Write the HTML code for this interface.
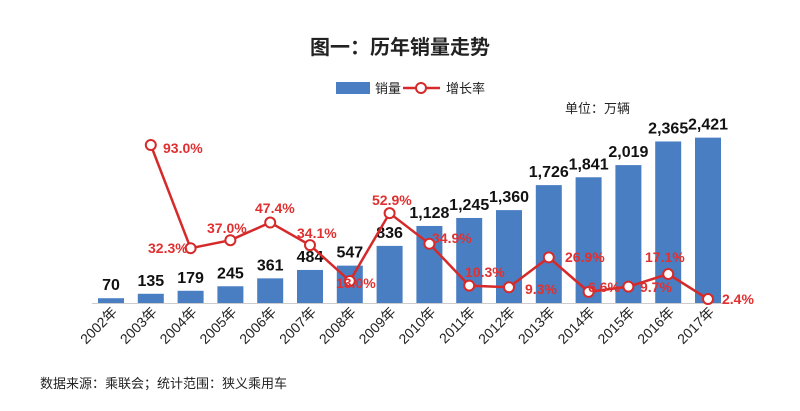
<!DOCTYPE html><html><head><meta charset="utf-8"><style>body{margin:0;background:#fff}svg{display:block}text{font-family:"Liberation Sans","Noto Sans CJK SC",sans-serif}</style></head><body>
<svg width="800" height="411" viewBox="0 0 800 411">
<text x="400" y="54" text-anchor="middle" font-size="20" font-weight="bold" fill="#222">图一：历年销量走势</text>
<rect x="336" y="82" width="34" height="12" fill="#4a7ec2"/><text x="375" y="93" font-size="13" fill="#222">销量</text>
<line x1="403" y1="88" x2="440" y2="88" stroke="#d62a2a" stroke-width="2.5"/><circle cx="421" cy="88" r="5" fill="#fff" stroke="#d62a2a" stroke-width="2"/><text x="446" y="93" font-size="13" fill="#222">增长率</text>
<text x="565" y="113" font-size="13" fill="#222">单位：万辆</text>
<g font-size="16" font-weight="bold" fill="#111" text-anchor="middle" id="bars"></g>
<line x1="92" y1="303.5" x2="728" y2="303.5" stroke="#ccc"/>
<g id="line"></g>
<g font-size="14" font-weight="bold" fill="#e03030" id="pct"></g>
<g font-size="14" fill="#222" id="yrs"></g>
<text x="40" y="388" font-size="13" fill="#222">数据来源：乘联会；统计范围：狭义乘用车</text>
</svg>
<script>
var v=[70,135,179,245,361,484,547,836,1128,1245,1360,1726,1841,2019,2365,2421];
var p=[null,93.0,32.3,37.0,47.4,34.1,13.0,52.9,34.9,10.3,9.3,26.9,6.6,9.7,17.1,2.4];
var ns="http://www.w3.org/2000/svg";function el(t,a,par,tx){var e=document.createElementNS(ns,t);for(var k in a)e.setAttribute(k,a[k]);if(tx)e.textContent=tx;document.getElementById(par).appendChild(e);return e;}
var pts=[];
for(var i=0;i<16;i++){var cx=111+i*39.8,h=v[i]*0.0683;el('rect',{x:cx-13,y:303-h,width:26,height:h,fill:'#4a7ec2'},'bars');
el('text',{x:cx,y:303-h-8},'bars',v[i].toLocaleString('en-US'));
el('text',{x:0,y:0,transform:'translate('+(cx+7)+',313) rotate(-45)','text-anchor':'end'},'yrs',(2002+i)+'年');
if(p[i]!=null)pts.push([cx,303.1-1.7*p[i]]);}
el('polyline',{points:pts.map(function(q){return q.join(',')}).join(' '),fill:'none',stroke:'#d62a2a','stroke-width':2.5},'line');
pts.forEach(function(q){el('circle',{cx:q[0],cy:q[1],r:5,fill:'#fff',stroke:'#d62a2a','stroke-width':2},'line');});
var L=[[163,153,'93.0%'],[148,253,'32.3%'],[207,233,'37.0%'],[255,213,'47.4%'],[297,238,'34.1%'],[336,288,'13.0%'],[372,205,'52.9%'],[432,243,'34.9%'],[465,277,'10.3%'],[525,294,'9.3%'],[565,262,'26.9%'],[588,292,'6.6%'],[640,292,'9.7%'],[645,262,'17.1%'],[722,304,'2.4%']];
L.forEach(function(a){el('text',{x:a[0],y:a[1]},'pct',a[2]);});
</script></body></html>
